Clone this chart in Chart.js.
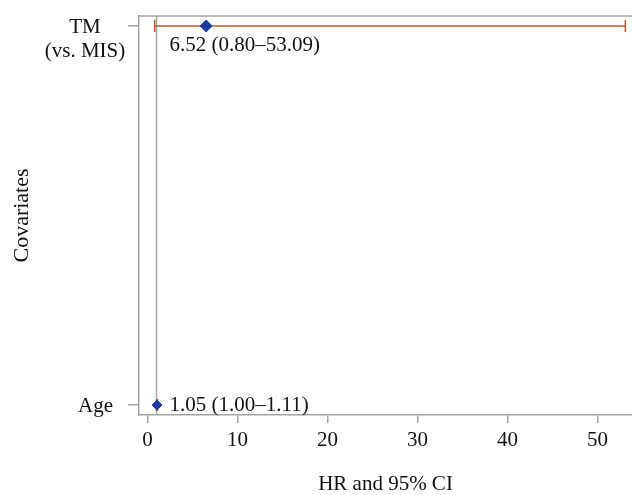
<!DOCTYPE html>
<html>
<head>
<meta charset="utf-8">
<script src="https://cdn.jsdelivr.net/npm/chart.js@4.4.1/dist/chart.umd.min.js"></script>
<style>
  body { margin: 0; background: #fff; }
  #wrap { width: 632px; height: 495px; }
</style>
</head>
<body>
<div id="wrap"><canvas id="forest" width="632" height="495"></canvas></div>
<script>
// covariates, bottom to top (y index 0, 1)
const covariates = [['Age'], ['TM', '(vs. MIS)']];
const hr = [1.05, 6.52];
const ciLow = [1.00, 0.80];
const ciHigh = [1.11, 53.09];
const xTicks = [0, 10, 20, 30, 40, 50];
const refHR = 1;

const yMin = -0.0263, yMax = 1.0263;
const FONT = "'Liberation Serif', 'Times New Roman', serif";
const GRAY = '#a3a3a3';
const BLUE = '#1b3c9e';
const ORANGE = '#c2542c';

// label offsets below each point (px)
const labelDy = [0, 20];

function ciText(i) {
  return hr[i].toFixed(2) + ' (' + ciLow[i].toFixed(2) + '\u2013' + ciHigh[i].toFixed(2) + ')';
}

const datasets = [{
  label: 'HR',
  type: 'scatter',
  data: hr.map((v, i) => ({ x: v, y: i })),
  pointStyle: 'rectRot',
  pointRadius: [5, 6],
  backgroundColor: BLUE,
  borderColor: BLUE,
  borderWidth: 1
}];

covariates.forEach((c, i) => {
  datasets.push({
    label: 'CI ' + i,
    type: 'line',
    data: [{ x: ciLow[i], y: i }, { x: ciHigh[i], y: i }],
    borderColor: ORANGE,
    borderWidth: 1.5,
    pointStyle: 'line',
    rotation: 90,
    pointRadius: 6,
    pointBorderColor: ORANGE,
    pointBorderWidth: 1.5
  });
});

// reference line at HR = 1
datasets.push({
  label: 'ref',
  type: 'line',
  data: [{ x: refHR, y: yMin }, { x: refHR, y: yMax }],
  borderColor: GRAY,
  borderWidth: 1.5,
  pointRadius: 0
});

// top frame line, y labels and the HR (CI) texts
const forestText = {
  id: 'forestText',
  afterDraw(chart) {
    const { ctx, chartArea, scales } = chart;
    ctx.save();
    ctx.strokeStyle = GRAY;
    ctx.lineWidth = 1.5;
    ctx.beginPath();
    ctx.moveTo(chartArea.left, chartArea.top);
    ctx.lineTo(chartArea.right, chartArea.top);
    ctx.stroke();

    ctx.fillStyle = '#111';
    ctx.font = '21px ' + FONT;
    ctx.textBaseline = 'middle';
    covariates.forEach((lines, i) => {
      const py = scales.y.getPixelForValue(i) + 1.5;
      let px;
      if (lines.length > 1) {
        ctx.textAlign = 'center';
        px = chartArea.left - 54;
      } else {
        ctx.textAlign = 'right';
        px = chartArea.left - 26;
      }
      lines.forEach((t, k) => ctx.fillText(t, px, py + k * 24.5));
    });

    ctx.textAlign = 'left';
    const lx = scales.x.getPixelForValue(refHR) + 13;
    hr.forEach((v, i) => {
      ctx.fillText(ciText(i), lx, scales.y.getPixelForValue(i) + labelDy[i]);
    });
    ctx.restore();
  }
};

new Chart(document.getElementById('forest'), {
  type: 'scatter',
  data: { datasets: datasets },
  options: {
    responsive: false,
    animation: false,
    layout: { autoPadding: false, padding: { top: 16, right: 0, left: 0, bottom: 0 } },
    plugins: { legend: { display: false }, tooltip: { enabled: false } },
    scales: {
      x: {
        type: 'linear',
        min: -0.944,
        max: 53.83,
        afterBuildTicks: (s) => { s.ticks = xTicks.map(v => ({ value: v })); },
        afterFit: (s) => { s.height = 80; s.paddingLeft = 0; s.paddingRight = 0; },
        grid: { drawOnChartArea: false, drawTicks: true, tickLength: 8, color: GRAY, lineWidth: 1.5 },
        border: { display: true, color: GRAY, width: 1.5 },
        ticks: { padding: 5, color: '#111', font: { family: FONT, size: 21 } },
        title: {
          display: true,
          text: 'HR and 95% CI',
          color: '#111',
          font: { family: FONT, size: 21, lineHeight: 1 },
          padding: { top: 0, bottom: 0 }
        }
      },
      y: {
        type: 'linear',
        min: yMin,
        max: yMax,
        afterBuildTicks: (s) => { s.ticks = covariates.map((c, i) => ({ value: i })); },
        afterFit: (s) => { s.width = 139; s.paddingTop = 0; s.paddingBottom = 0; },
        grid: { drawOnChartArea: false, drawTicks: true, tickLength: 11, color: GRAY, lineWidth: 1.5 },
        border: { display: true, color: GRAY, width: 1.5 },
        ticks: { display: false },
        title: {
          display: true,
          text: 'Covariates',
          color: '#111',
          font: { family: FONT, size: 22, lineHeight: 1 },
          padding: { top: 11, bottom: 0 }
        }
      }
    }
  },
  plugins: [forestText]
});
</script>
</body>
</html>
